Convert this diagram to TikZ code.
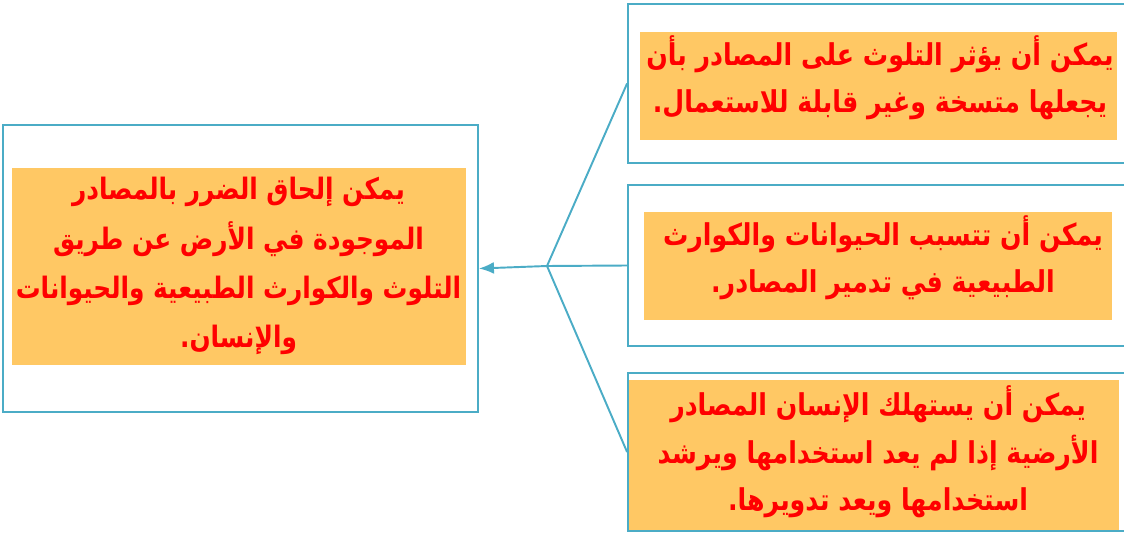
\documentclass[tikz,border=0pt]{standalone}
\usepackage{fontspec}
\newfontfamily\arabicfont[Script=Arabic, FakeStretch=0.84]{DejaVu Sans}
\TeXXeTstate=1
\usetikzlibrary{arrows.meta}
\definecolor{frameblue}{HTML}{4BACC6}
\definecolor{notefill}{HTML}{FFC864}

\begin{document}
\begin{tikzpicture}[x=0.02cm, y=-0.02cm,
  frame/.style={draw=frameblue, line width=1.1pt, minimum width=10.04cm, minimum height=3.18cm, inner sep=0pt},
  note/.style={fill=notefill, inner sep=0pt, minimum height=2.16cm},
  notetext/.style={text=red, align=center, inner sep=0pt, font=\arabicfont\bfseries\fontsize{17.1}{27}\selectfont},
  link/.style={draw=frameblue, line width=1.1pt}]
\clip (0,0) rectangle (1124,533);
\node[frame, minimum width=9.5cm, minimum height=5.74cm] (effect) at (240.5,268.5) {};
\node[frame] (pollution) at (879,83.5) {};
\node[frame, minimum height=3.22cm] (animals) at (879,265.5) {};
\node[frame, minimum height=3.16cm] (human) at (879,452) {};
\node[note, minimum width=9.08cm, minimum height=3.94cm] (effectbox) at (239,266.5) {};
\node[note, minimum width=9.54cm] (pollutionbox) at (878.5,86) {};
\node[note, minimum width=9.36cm] (animalsbox) at (878,266) {};
\node[note, minimum width=9.8cm, minimum height=3cm] (humanbox) at (874,455) {};
\node[notetext, font=\arabicfont\bfseries\fontsize{16.8}{28}\selectfont] (effecttext) at (238.5,266)
  {\beginR يمكن إلحاق الضرر بالمصادر\endR\\ \beginR الموجودة في الأرض عن طريق\endR\\ \beginR التلوث والكوارث الطبيعية والحيوانات\endR\\ \beginR والإنسان.\endR};
\node[notetext] (pollutiontext) at (880,78)
  {\beginR يمكن أن يؤثر التلوث على المصادر بأن\endR\\ \beginR يجعلها متسخة وغير قابلة للاستعمال.\endR};
\node[notetext] (animalstext) at (883,258)
  {\beginR يمكن أن تتسبب الحيوانات والكوارث\endR\\ \beginR الطبيعية في تدمير المصادر.\endR};
\node[notetext] (humantext) at (878,452)
  {\beginR يمكن أن يستهلك الإنسان المصادر\endR\\ \beginR الأرضية إذا لم يعد استخدامها ويرشد\endR\\ \beginR استخدامها ويعد تدويرها.\endR};
\coordinate (fork) at (547,266);
\draw[link] (fork) -- (pollution.west) (fork) -- (animals.west) (fork) -- (human.west);
\draw[link, -{Latex[length=0.3cm, width=0.24cm]}] (fork) -- (effect.east);
\end{tikzpicture}
\end{document}
